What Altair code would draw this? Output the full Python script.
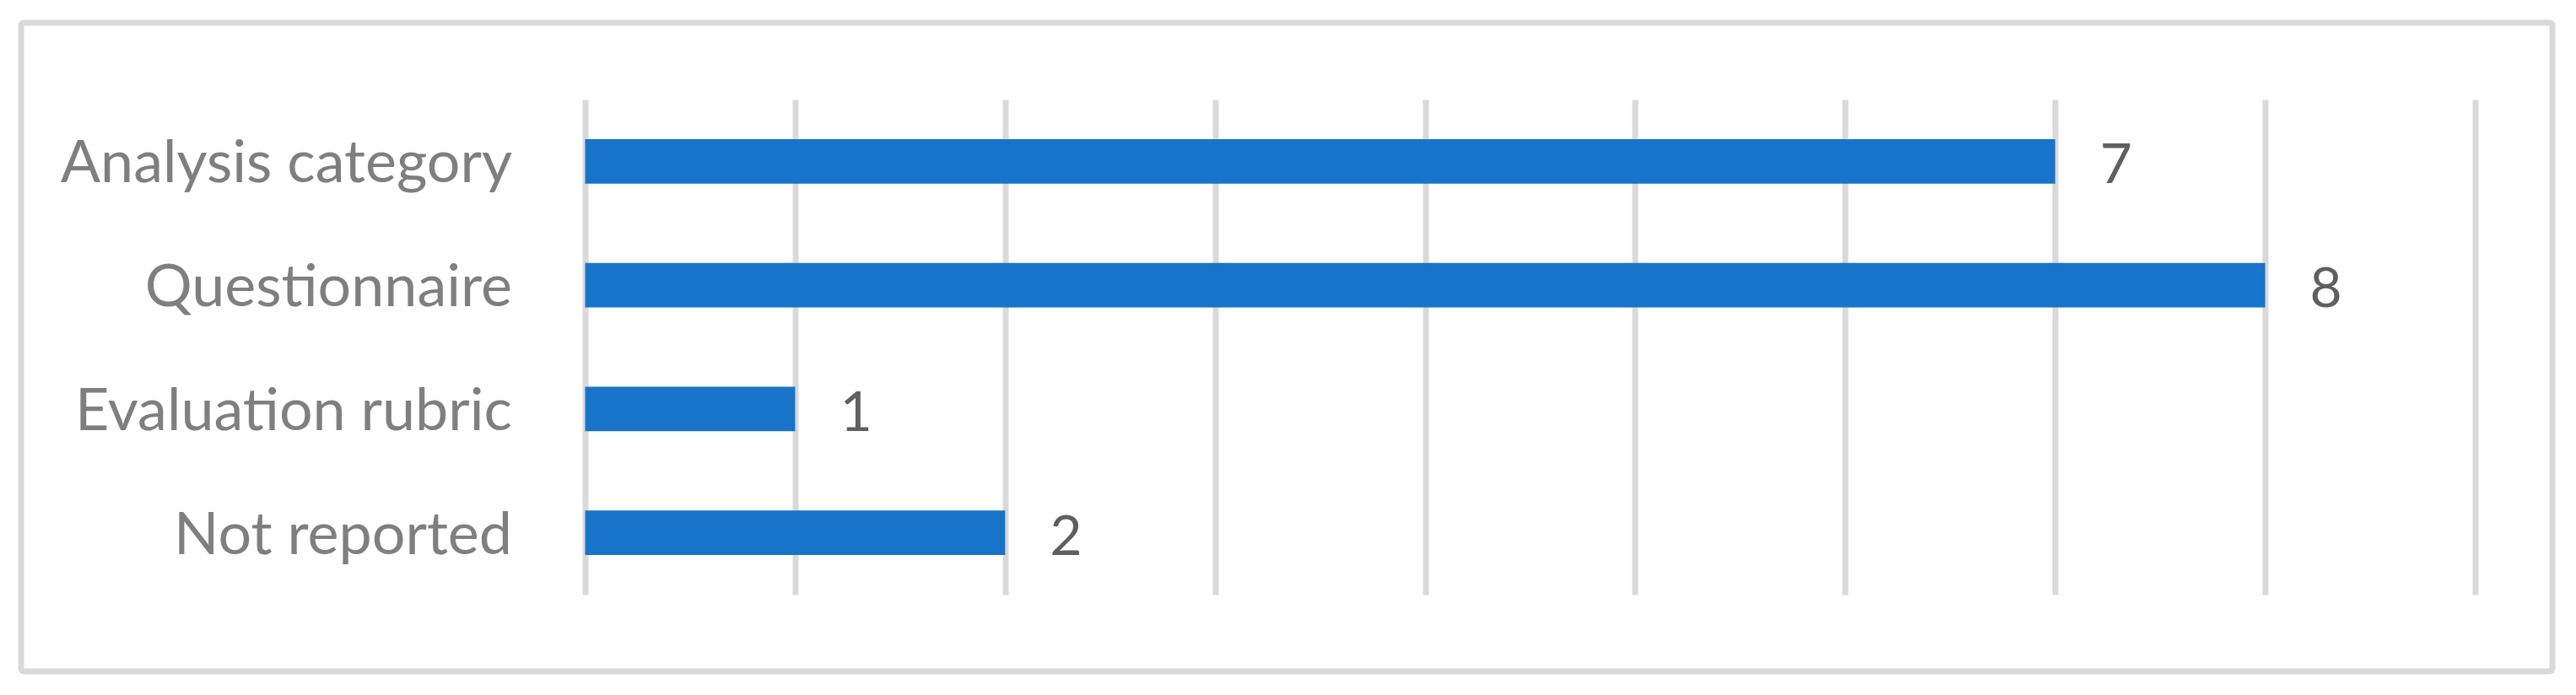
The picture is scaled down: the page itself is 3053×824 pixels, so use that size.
import altair as alt
import pandas as pd

categories = ["Analysis category", "Questionnaire", "Evaluation rubric", "Not reported"]
values = [7, 8, 1, 2]
x_ticks = [0, 1, 2, 3, 4, 5, 6, 7, 8, 9]

df = pd.DataFrame({"category": categories, "value": values})

FONT = "Lato"
GRID = "#d9d9d9"

x_enc = alt.X(
    "value:Q",
    scale=alt.Scale(domain=[0, 9], nice=False, zero=True),
    axis=alt.Axis(
        values=x_ticks, labels=False, ticks=False, domain=False, title=None,
        grid=True, gridColor=GRID, gridWidth=7,
    ),
)
y_enc = alt.Y(
    "category:N",
    sort=None,
    scale=alt.Scale(paddingInner=0.641, paddingOuter=0.3205),
    axis=alt.Axis(
        title=None, ticks=False, domain=False, grid=False,
        labelFont=FONT, labelFontSize=70, labelColor="#7f7f7f",
        labelPadding=87, labelLimit=1000, labelOffset=4,
    ),
)

bars = alt.Chart(df).mark_bar(color="#1874c8").encode(x=x_enc, y=y_enc)

labels = alt.Chart(df).mark_text(
    align="left", baseline="middle", dx=53, dy=6,
    font=FONT, fontSize=66, color="#5f5f5f",
).encode(x="value:Q", y=alt.Y("category:N", sort=None), text="value:Q")

border = alt.Chart(alt.Data(values=[{}])).mark_rect(
    fill=None, stroke=GRID, strokeWidth=7, cornerRadius=3,
).encode(
    x=alt.value(-668.5), x2=alt.value(2331.5),
    y=alt.value(-91), y2=alt.value(678),
)

chart = alt.layer(border, bars, labels).properties(
    width=2240, height=587,
    padding={"left": 685.5, "top": 110, "right": 103.5, "bottom": 111},
    autosize=alt.AutoSizeParams(type="none"),
    background="white",
).configure_view(stroke=None)

chart.save("out.html", embed_options={"renderer": "svg", "actions": False})
